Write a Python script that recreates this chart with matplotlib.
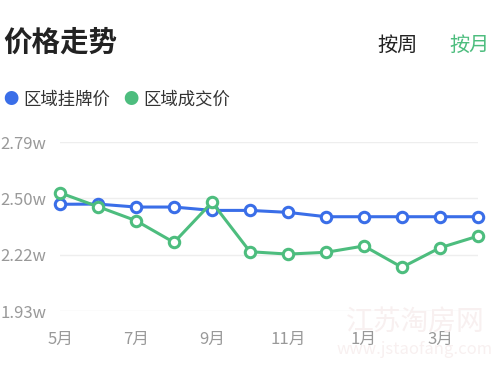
import matplotlib
matplotlib.use("Agg")
import matplotlib.pyplot as plt

plt.rcParams['font.family'] = ['Noto Sans CJK SC', 'DejaVu Sans']

# 数据（单位：万元/㎡）
meses = ["5月", "6月", "7月", "8月", "9月", "10月", "11月", "12月", "1月", "2月", "3月", "4月"]
guapai = [2.470, 2.471, 2.456, 2.456, 2.439, 2.439, 2.429, 2.407, 2.407, 2.407, 2.407, 2.407]
chengjiao = [2.528, 2.458, 2.387, 2.277, 2.480, 2.230, 2.218, 2.227, 2.259, 2.151, 2.250, 2.309]
y_ticks = [1.93, 2.215, 2.50, 2.785]
y_labels = ["1.93w", "2.22w", "2.50w", "2.79w"]

azul = "#3a6ee8"
verde = "#4dbd7e"

fig = plt.figure(figsize=(5, 3.74), dpi=100)
ax = fig.add_axes([0.12, 0.1684, 0.836, 0.4519])

x = list(range(len(meses)))
ax.plot(x, guapai, color=azul, lw=2.2, marker="o", ms=7.5, mfc="white",
        mec=azul, mew=2.2, clip_on=False, zorder=3)
ax.plot(x, chengjiao, color=verde, lw=2.2, marker="o", ms=7.5, mfc="white",
        mec=verde, mew=2.2, clip_on=False, zorder=4)

ax.set_xlim(0, len(meses) - 1)
ax.set_ylim(y_ticks[0], y_ticks[-1])
ax.set_yticks(y_ticks)
ax.set_yticklabels(y_labels)
ax.set_xticks(x[::2])
ax.set_xticklabels(meses[::2])
ax.grid(axis="y", color="#eeeeee", lw=1)
ax.set_axisbelow(True)
for s in ax.spines.values():
    s.set_visible(False)
ax.tick_params(length=0, colors="#999999", labelsize=12, pad=10)
ax.tick_params(axis="x", pad=14)

# titulo y botones
fig.text(0.006, 0.885, "价格走势", fontsize=20.5, fontweight="bold", color="#222222", va="center")
fig.text(0.754, 0.878, "按周", fontsize=14.5, color="#222222", va="center")
fig.text(0.898, 0.878, "按月", fontsize=14.5, color=verde, va="center")

# leyenda
fig.text(0.022, 0.733, "●", fontsize=11, color=azul, va="center", ha="center")
fig.text(0.046, 0.733, "区域挂牌价", fontsize=12.5, color="#333333", va="center")
fig.text(0.262, 0.733, "●", fontsize=11, color=verde, va="center", ha="center")
fig.text(0.287, 0.733, "区域成交价", fontsize=12.5, color="#333333", va="center")

# marca de agua
fig.text(0.83, 0.14, "江苏淘房网", fontsize=20, color="#f8f0f0", ha="center", va="center", zorder=0)
fig.text(0.83, 0.065, "www.jstaofang.com", fontsize=12, color="#f8f0f0", ha="center", va="center", zorder=0)

fig.savefig("out.png", dpi=100, facecolor="white")
